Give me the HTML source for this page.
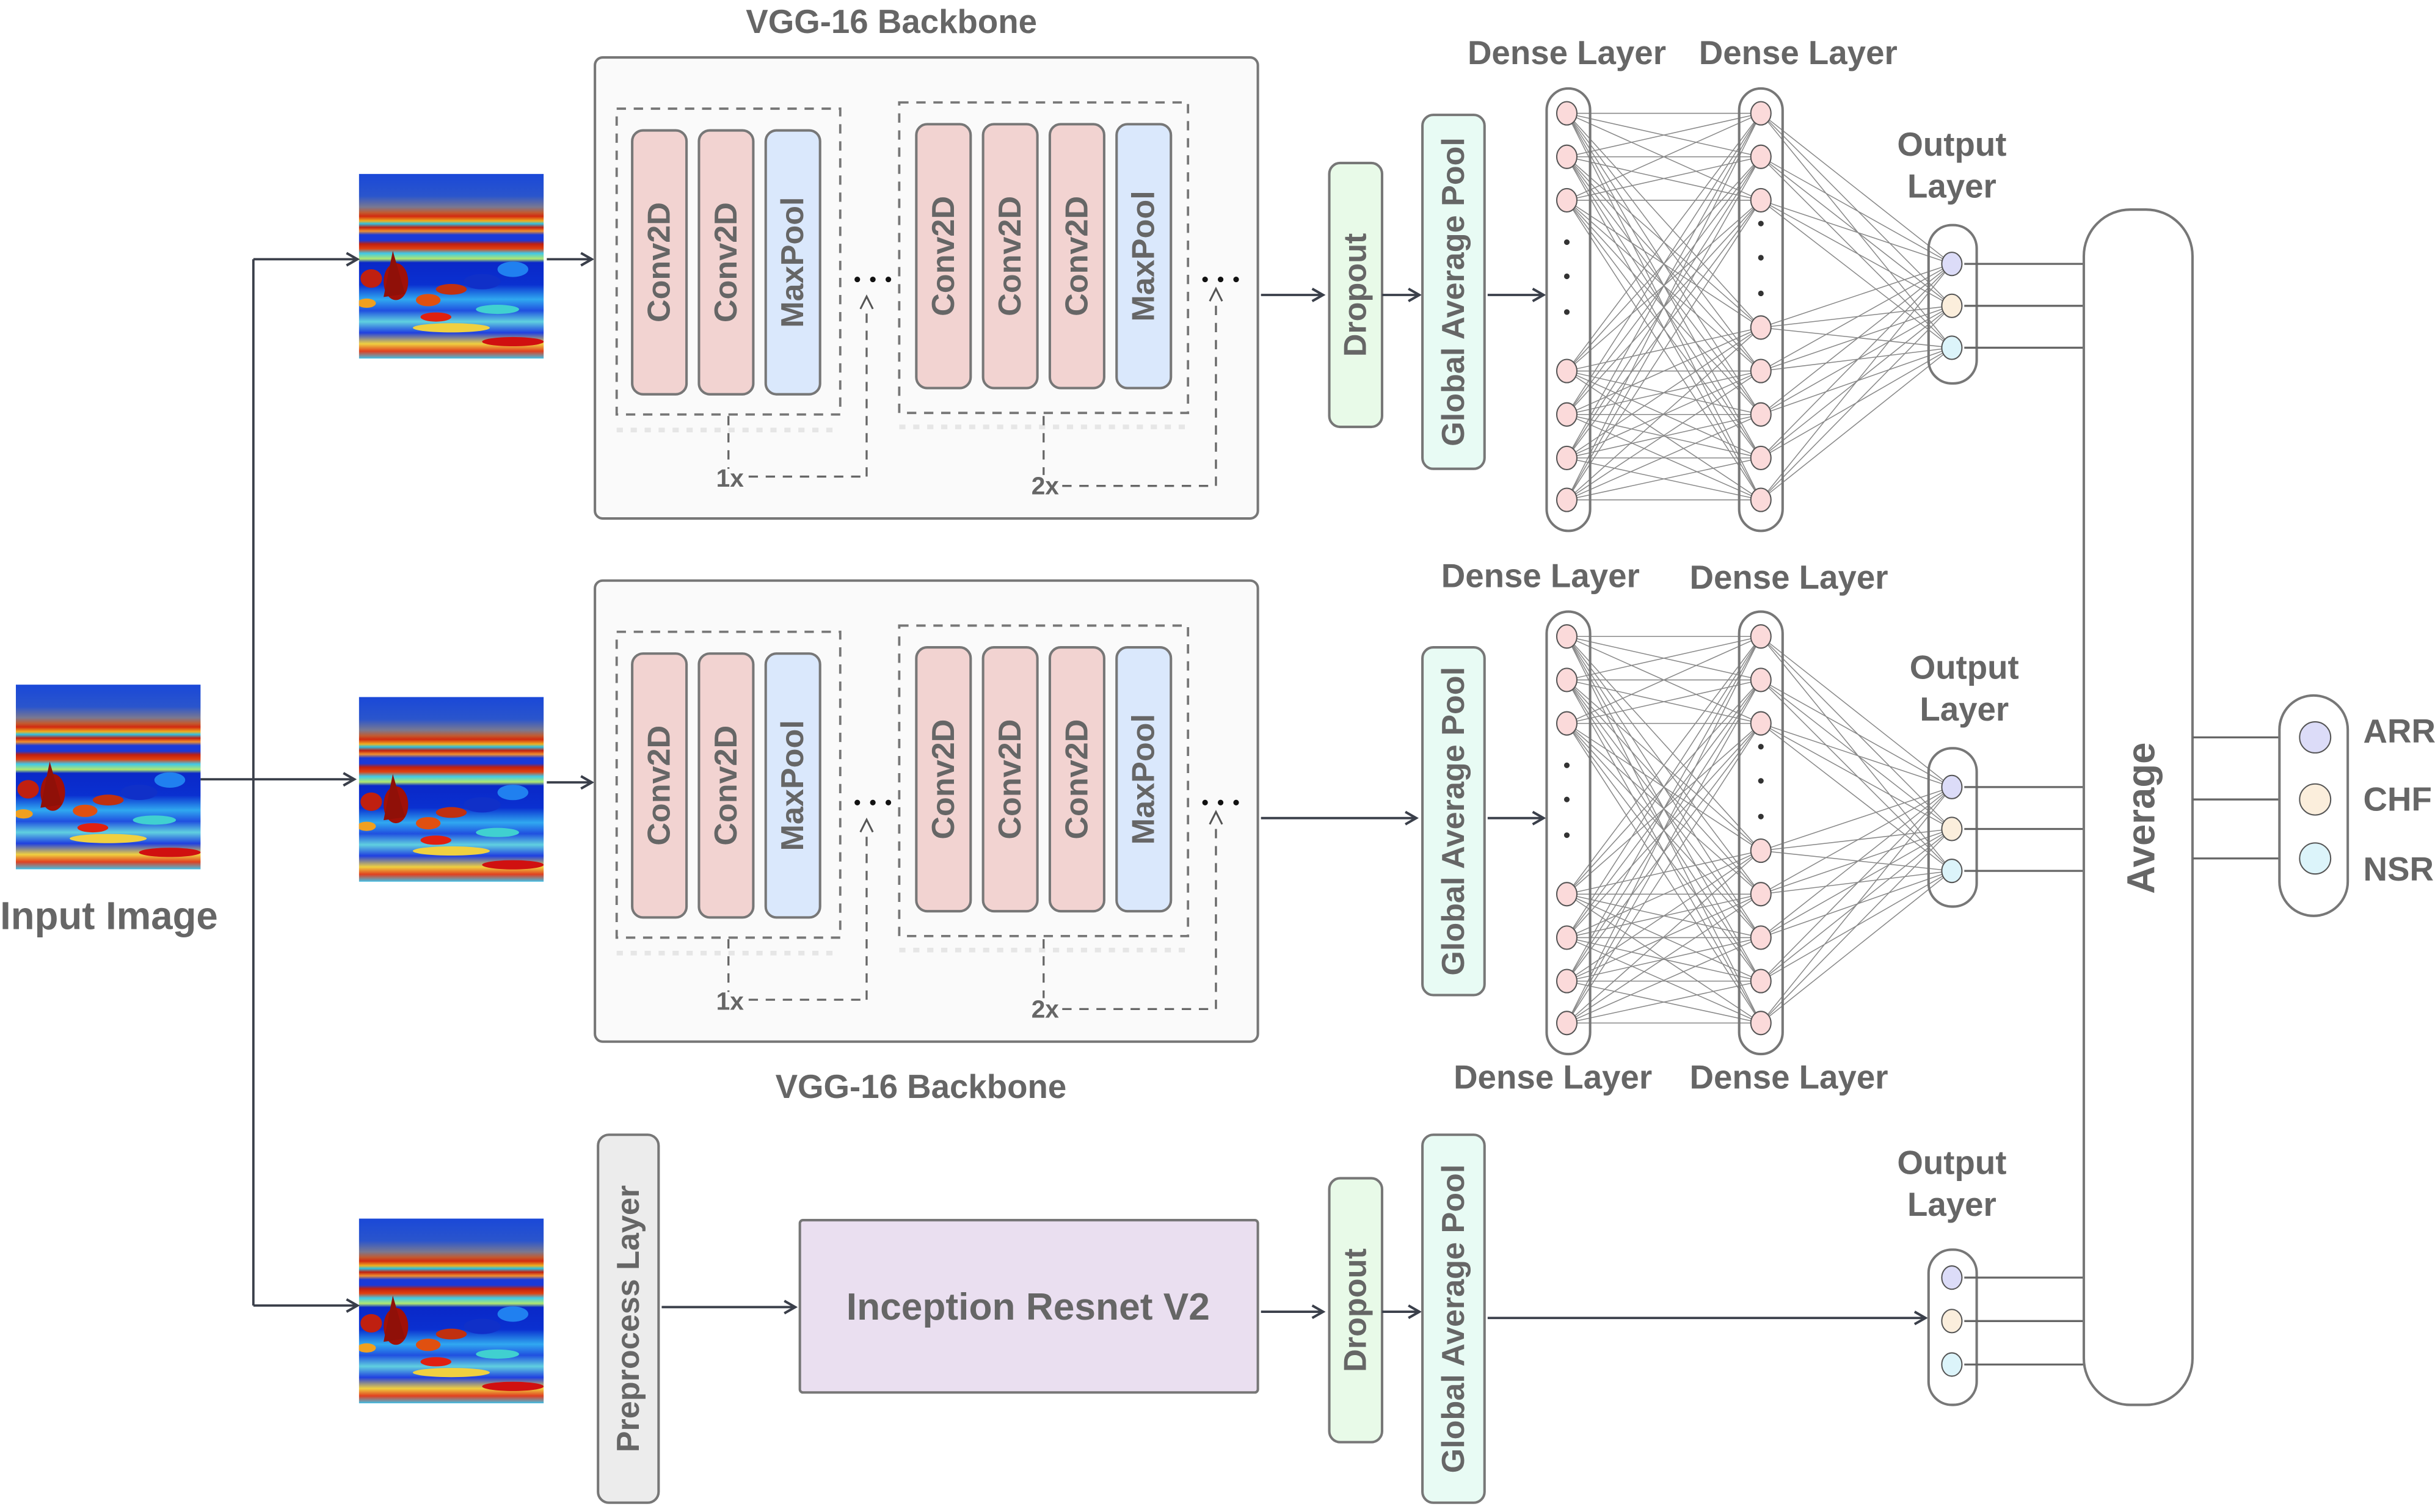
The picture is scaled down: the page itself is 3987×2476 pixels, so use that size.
<!DOCTYPE html>
<html><head><meta charset="utf-8"><style>
html,body{margin:0;padding:0;background:#fff;}
svg{display:block;}
text{font-family:"Liberation Sans",sans-serif;font-weight:bold;fill:#666;}
</style></head><body>
<svg id="s" width="3987" height="2476" viewBox="0 0 1568 974" xmlns="http://www.w3.org/2000/svg">
<defs>
<marker id="ar" markerWidth="10" markerHeight="10" refX="8" refY="5" orient="auto" markerUnits="userSpaceOnUse">
<path d="M1,1 L8,5 L1,9" fill="none" stroke="#3a3f4a" stroke-width="1.6"/></marker>
<linearGradient id="sg" x1="0" y1="0" x2="0" y2="1">
<stop offset="0" stop-color="#1a48d8"/><stop offset="0.12" stop-color="#2a55cc"/>
<stop offset="0.18" stop-color="#7a7890"/><stop offset="0.21" stop-color="#c25a30"/>
<stop offset="0.23" stop-color="#d22a10"/><stop offset="0.255" stop-color="#f0b020"/>
<stop offset="0.27" stop-color="#30c0e0"/><stop offset="0.29" stop-color="#c02010"/>
<stop offset="0.31" stop-color="#f09030"/><stop offset="0.33" stop-color="#1a3ad8"/>
<stop offset="0.36" stop-color="#1a3ad8"/><stop offset="0.38" stop-color="#c02010"/>
<stop offset="0.405" stop-color="#e04010"/><stop offset="0.43" stop-color="#40c8e8"/>
<stop offset="0.46" stop-color="#b0e870"/><stop offset="0.48" stop-color="#0a28c8"/>
<stop offset="0.6" stop-color="#0a30d0"/><stop offset="0.68" stop-color="#30a8f0"/>
<stop offset="0.74" stop-color="#2050e0"/><stop offset="0.8" stop-color="#60d0e0"/>
<stop offset="0.86" stop-color="#2040e0"/><stop offset="0.92" stop-color="#f0d040"/>
<stop offset="0.96" stop-color="#e04020"/><stop offset="1" stop-color="#40c0e8"/>
</linearGradient>
<symbol id="spec" viewBox="0 0 120 120">
<rect width="120" height="120" fill="url(#sg)"/>
<ellipse cx="8" cy="68" rx="7" ry="6" fill="#c02010"/>
<ellipse cx="24" cy="70" rx="8" ry="12" fill="#a01008"/>
<path d="M22,50 L30,78 L16,80 Z" fill="#901008"/>
<ellipse cx="45" cy="82" rx="8" ry="4" fill="#e05010"/>
<ellipse cx="60" cy="75" rx="10" ry="3.5" fill="#c03010"/>
<ellipse cx="50" cy="93" rx="10" ry="3" fill="#e02010"/>
<ellipse cx="100" cy="109" rx="20" ry="3" fill="#d01010"/>
<ellipse cx="5" cy="84" rx="6" ry="3" fill="#f0a020"/>
<ellipse cx="80" cy="70" rx="12" ry="5" fill="#1030c8"/>
<ellipse cx="100" cy="62" rx="10" ry="5" fill="#2080f0"/>
<ellipse cx="60" cy="100" rx="25" ry="3" fill="#f0d040"/>
<ellipse cx="90" cy="88" rx="14" ry="3" fill="#40d0d0"/>
</symbol>
</defs>
<g id="g"></g>
</svg>
<script>
const g=document.getElementById('g');let h='';
const S='#777';
function R(x,y,w,hh,f,rx,sw,dash){h+=`<rect x="${x}" y="${y}" width="${w}" height="${hh}" rx="${rx||0}" fill="${f||'none'}" stroke="${S}" stroke-width="${sw||1.6}" ${dash?`stroke-dasharray="${dash}"`:''}/>`;}
function L(x1,y1,x2,y2,c,w,m,d){h+=`<line x1="${x1}" y1="${y1}" x2="${x2}" y2="${y2}" stroke="${c||'#555'}" stroke-width="${w||1.3}" ${m?'marker-end="url(#ar)"':''} ${d?`stroke-dasharray="${d}"`:''}/>`;}
function T(x,y,s,t,sz,rot,anc){h+=`<text x="${x}" y="${y}" font-size="${sz}" text-anchor="${anc||'middle'}" ${rot?`transform="rotate(-90 ${x} ${y})"`:''} dominant-baseline="central">${t}</text>`;}
function VB(x,y,w,hh,f,t,sz){R(x,y,w,hh,f,7,1.6);T(x+w/2,y+hh/2,0,t,sz||20.5,1);}
[[10,441],[231,112],[231,449],[231,785]].forEach(p=>{h+=`<use href="#spec" x="${p[0]}" y="${p[1]}" width="119" height="119"/>`;});
T(70,590,0,'Input Image',25);
L(129,502,228,502,'#3a3f4a',1.5,1);
L(163,167,163,841,'#3a3f4a',1.5);
L(163,167,230,167,'#3a3f4a',1.5,1);L(163,841,230,841,'#3a3f4a',1.5,1);
L(352,167,381,167,'#3a3f4a',1.5,1);L(352,504,381,504,'#3a3f4a',1.5,1);
function vgg(o){
 R(383,37+o,427,297,'#fafafa',5,1.6);
 R(397,70+o,144,197,'none',0,1.5,'6,5');R(579,66+o,186,200,'none',0,1.5,'6,5');
 L(397,277+o,541,277+o,'#e6e6e6',3,0,'4,5');L(579,275+o,765,275+o,'#e6e6e6',3,0,'4,5');
 const P='#f2d3d1',B='#dae8fc';
 VB(407,84+o,35,170,P,'Conv2D');VB(450,84+o,35,170,P,'Conv2D');VB(493,84+o,35,170,B,'MaxPool');
 VB(590,80+o,35,170,P,'Conv2D');VB(633,80+o,35,170,P,'Conv2D');VB(676,80+o,35,170,P,'Conv2D');VB(719,80+o,35,170,B,'MaxPool');
 [552,562,572,776,786,796].forEach(x=>{h+=`<circle cx="${x}" cy="${180+o}" r="1.8" fill="#111"/>`;});
 L(469,268+o,469,302+o,'#666',1.3,0,'6,5');L(482,307+o,558,307+o,'#666',1.3,0,'6,5');L(558,307+o,558,197+o,'#666',1.3,0,'6,5');
 h+=`<path d="M554,${199+o} L558,${191+o} L562,${199+o}" fill="none" stroke="#555" stroke-width="1.2"/>`;
 T(470,308+o,0,'1x',16);
 L(672,268+o,672,306+o,'#666',1.3,0,'6,5');L(684,313+o,783,313+o,'#666',1.3,0,'6,5');L(783,313+o,783,192+o,'#666',1.3,0,'6,5');
 h+=`<path d="M779,${194+o} L783,${186+o} L787,${194+o}" fill="none" stroke="#555" stroke-width="1.2"/>`;
 T(673,313+o,0,'2x',16);
}
vgg(0);vgg(337);
T(574,14,0,'VGG-16 Backbone',21.5);T(593,700,0,'VGG-16 Backbone',21.5);
L(812,190,852,190,'#3a3f4a',1.5,1);
VB(856,105,34,170,'#e8fae8','Dropout');
L(890,190,914,190,'#3a3f4a',1.5,1);
VB(916,74,40,228,'#e8fbf4','Global Average Pool');
L(958,190,994,190,'#3a3f4a',1.5,1);
L(812,527,912,527,'#3a3f4a',1.5,1);
VB(916,417,40,224,'#e8fbf4','Global Average Pool');
L(958,527,994,527,'#3a3f4a',1.5,1);
const OC=['#dcdcf8','#fbeedc','#dcf4fa'];
function out(oy){oy.forEach((y,i)=>{L(1265,y,1342,y,'#666',1.3);h+=`<ellipse cx="1257" cy="${y}" rx="6.5" ry="7.5" fill="${OC[i]}" stroke="#555" stroke-width="0.8"/>`;});}
function dense(o){
 const c1=[73,101,129,239,267,295,322].map(y=>y+o), c2=[73,101,129,211,239,267,295,322].map(y=>y+o),oy=[170,197,224].map(y=>y+o);
 c1.forEach(a=>c2.forEach(b=>L(1009,a,1134,b,'#888',0.6)));
 c2.forEach(a=>oy.forEach(b=>L(1134,a,1257,b,'#888',0.6)));
 R(996,57+o,28,285,'none',14,1.6);R(1120,57+o,28,285,'none',14,1.6);R(1242,145+o,31,102,'none',15,1.6);
 c1.forEach(y=>h+=`<ellipse cx="1009" cy="${y}" rx="6.5" ry="7.5" fill="#fbdada" stroke="#555" stroke-width="0.8"/>`);
 c2.forEach(y=>h+=`<ellipse cx="1134" cy="${y}" rx="6.5" ry="7.5" fill="#fbdada" stroke="#555" stroke-width="0.8"/>`);
 [156,178,201].forEach(y=>h+=`<circle cx="1009" cy="${y+o}" r="1.8" fill="#333"/>`);
 [144,166,189].forEach(y=>h+=`<circle cx="1134" cy="${y+o}" r="1.8" fill="#333"/>`);
 out(oy);
}
dense(0);dense(337);
T(1009,34,0,'Dense Layer',21.5);T(1158,34,0,'Dense Layer',21.5);
T(1257,93,0,'Output',21.5);T(1257,120,0,'Layer',21.5);
T(992,371,0,'Dense Layer',21.5);T(1152,372,0,'Dense Layer',21.5);
T(1000,694,0,'Dense Layer',21.5);T(1152,694,0,'Dense Layer',21.5);
T(1265,430,0,'Output',21.5);T(1265,457,0,'Layer',21.5);
VB(385,731,39,237,'#ececec','Preprocess Layer');
L(426,842,512,842,'#3a3f4a',1.5,1);
R(515,786,295,111,'#eadff0',2,1.6);T(662,842,0,'Inception Resnet V2',24.5);
L(812,845,852,845,'#3a3f4a',1.5,1);
VB(856,759,34,170,'#e8fae8','Dropout');
L(890,845,914,845,'#3a3f4a',1.5,1);
VB(916,731,40,237,'#e8fbf4','Global Average Pool');
L(958,849,1240,849,'#3a3f4a',1.5,1);
R(1242,805,31,100,'none',15,1.6);out([823,851,879]);
T(1257,749,0,'Output',21.5);T(1257,776,0,'Layer',21.5);
R(1342,135,70,770,'#fff',30,1.6);T(1379,527,0,'Average',25,1);
[475,515,553].forEach((y,i)=>{L(1412,y,1468,y,'#666',1.3);h+=`<circle cx="1491" cy="${y}" r="10" fill="${OC[i]}" stroke="#555" stroke-width="0.8"/>`;});
R(1468,448,44,142,'none',22,1.6);
T(1522,471,0,'ARR',21.5,0,'start');T(1522,515,0,'CHF',21.5,0,'start');T(1522,560,0,'NSR',21.5,0,'start');
g.innerHTML=h;
</script>
</body></html>
